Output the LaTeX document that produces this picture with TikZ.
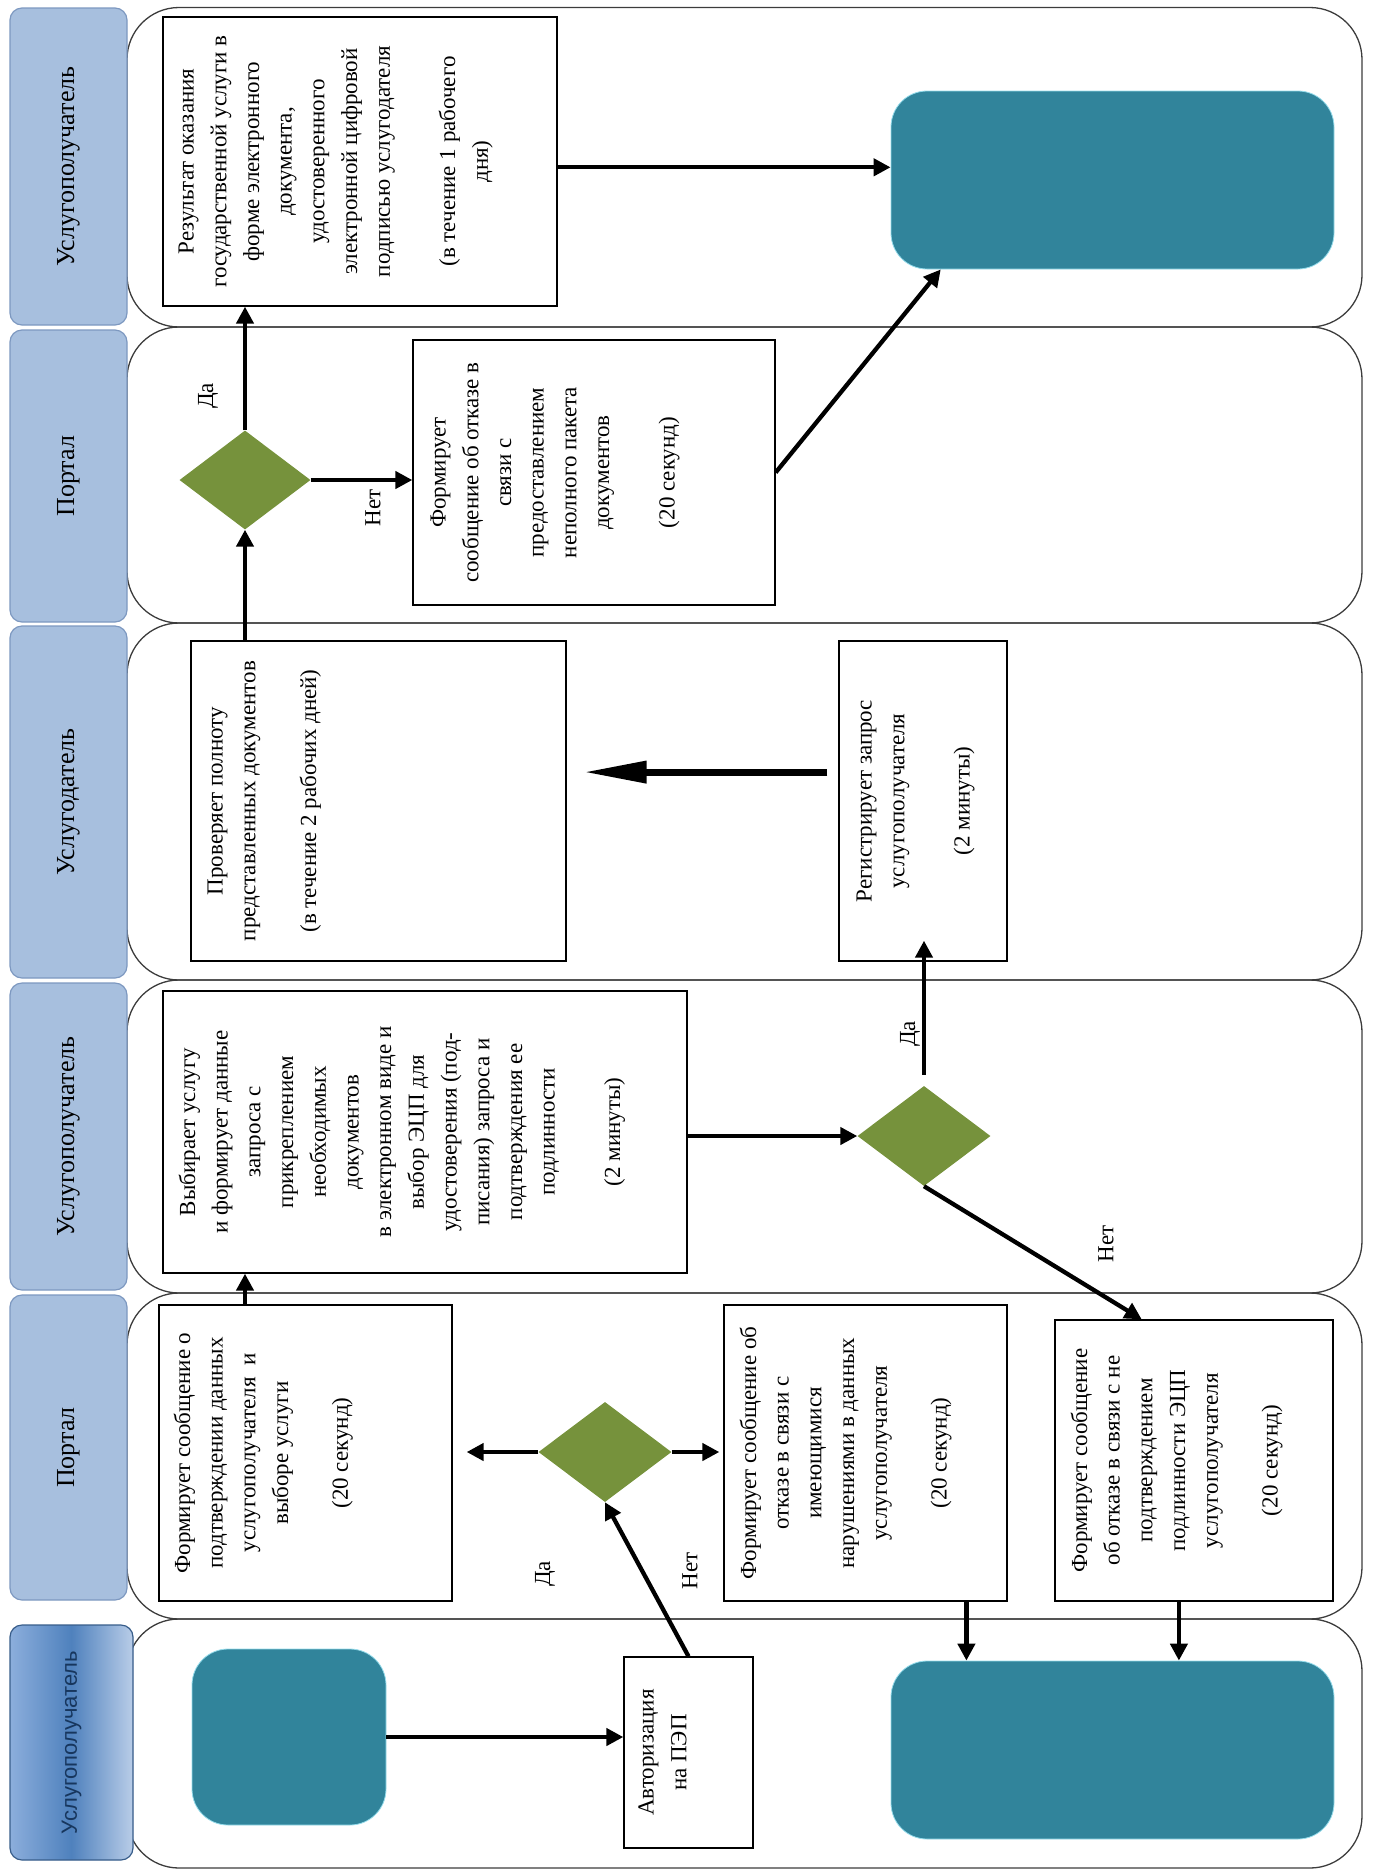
\documentclass[tikz,border=0pt]{standalone}
\usepackage{fontspec}
\setmainfont{Liberation Serif}
\newfontfamily\lblsans{Liberation Sans}
\usetikzlibrary{shapes.geometric,arrows.meta,calc}
\definecolor{tealbox}{RGB}{49,132,155}
\definecolor{tealedge}{RGB}{150,220,235}
\definecolor{olivedia}{RGB}{118,146,60}
\definecolor{lblfill}{RGB}{167,191,222}
\definecolor{lbldraw}{RGB}{125,152,192}
\definecolor{lanedraw}{RGB}{60,60,60}
\definecolor{navytxt}{RGB}{23,54,93}
\definecolor{lblsixa}{RGB}{140,174,220}
\definecolor{lblsixb}{RGB}{79,129,189}
\definecolor{lblsixc}{RGB}{185,205,232}
\definecolor{lblsixd}{RGB}{56,93,138}
\begin{document}
\begin{tikzpicture}[x=1pt,y=-1pt,
  lane/.style={draw=lanedraw, line width=1.3pt, rounded corners=52pt},
  lanelbl/.style={draw=lbldraw, line width=1.2pt, fill=lblfill, rounded corners=12pt, rotate=90, inner sep=0pt, font=\fontsize{26}{30}\selectfont},
  box/.style={draw=black, line width=1.3pt, fill=white, inner sep=0pt},
  term/.style={fill=tealbox, draw=tealedge, line width=0.8pt, rounded corners=36pt, inner sep=0pt},
  dia/.style={diamond, fill=olivedia, inner sep=0pt},
  txt/.style={rotate=90, anchor=north, align=center, inner sep=0pt, font=\fontsize{23}{32.7}\selectfont},
  yn/.style={rotate=90, inner sep=0pt, font=\fontsize{23}{27}\selectfont},
  arr/.style={line width=4.3pt, -{Triangle[length=17pt,width=17pt]}},
  bigarr/.style={line width=7pt, -{Triangle[length=63pt,width=21pt]}},
]
\useasboundingbox (0,0) rectangle (1373,1872);

% lanes
\draw[lane] (127,7.5) rectangle (1362,327);
\draw[lane] (127,327) rectangle (1362,623);
\draw[lane] (127,623) rectangle (1362,980);
\draw[lane] (127,980) rectangle (1362,1293);
\draw[lane] (127,1293) rectangle (1362,1619);
\draw[lane] (127,1619) rectangle (1362,1868);

% lane labels
\node[lanelbl, minimum width=317pt, minimum height=117pt] (lab1) at (68.5,166.5) {Услугополучатель};
\node[lanelbl, minimum width=292pt, minimum height=117pt] (lab2) at (68.5,476) {Портал};
\node[lanelbl, minimum width=352pt, minimum height=117pt] (lab3) at (68.5,802) {Услугодатель};
\node[lanelbl, minimum width=307pt, minimum height=117pt] (lab4) at (68.5,1136.5) {Услугополучатель};
\node[lanelbl, minimum width=305pt, minimum height=117pt] (lab5) at (68.5,1447.5) {Портал};
\node[lanelbl, draw=lblsixd, left color=lblsixa, right color=lblsixc, middle color=lblsixb,
      minimum width=235pt, minimum height=123pt, text=navytxt, font=\lblsans\fontsize{22}{26}\selectfont] (lab6) at (71.5,1742.5) {Услугополучатель};

% boxes
\node[box, minimum width=394pt, minimum height=289pt] (R) at (360,161.5) {};
\node[term, minimum width=443pt, minimum height=178pt] (T1) at (1112.5,180) {};
\node[dia, minimum width=131pt, minimum height=99pt] (D2) at (245,480) {};
\node[box, minimum width=362pt, minimum height=265pt] (F2) at (594,472.5) {};
\node[box, minimum width=375pt, minimum height=320pt] (P) at (378.5,801) {};
\node[box, minimum width=168pt, minimum height=320pt] (Reg) at (923,801) {};
\node[box, minimum width=524pt, minimum height=282pt] (V) at (425,1132) {};
\node[dia, minimum width=133pt, minimum height=100pt] (D4) at (924,1136) {};
\node[box, minimum width=293pt, minimum height=296pt] (B1) at (305.5,1453) {};
\node[dia, minimum width=133pt, minimum height=100pt] (D5) at (605,1452) {};
\node[box, minimum width=283pt, minimum height=296pt] (B2) at (865.5,1453) {};
\node[box, minimum width=278pt, minimum height=281pt] (B3) at (1194,1460.5) {};
\node[term, minimum width=194pt, minimum height=176pt] (S) at (289,1737) {};
\node[box, minimum width=129pt, minimum height=191pt] (A) at (688.5,1752.5) {};
\node[term, minimum width=443pt, minimum height=178pt] (T2) at (1112.5,1750) {};

% texts
\node[txt] (Rt) at ([xshift=16pt]R.west) {Результат оказания\\государственной услуги в\\форме электронного\\документа,\\удостоверенного\\электронной цифровой\\подписью услугодателя\\[32.7pt](в течение 1 рабочего\\дня)};
\node[txt] (F2t) at ([xshift=18pt]F2.west) {Формирует\\сообщение об отказе в\\связи с\\предоставлением\\неполного пакета\\документов\\[32.7pt](20 секунд)};
\node[txt] (Pt) at ([xshift=17pt]P.west) {Проверяет полноту\\представленных документов\\[28pt](в течение 2 рабочих дней)};
\node[txt] (Regt) at ([xshift=18pt]Reg.west) {Регистрирует запрос\\услугополучателя\\[32.7pt](2 минуты)};
\node[txt] (Vt) at ([xshift=16pt]V.west) {Выбирает услугу\\и формирует данные\\запроса с\\прикреплением\\необходимых\\документов\\в электронном виде и\\выбор ЭЦП для\\удостоверения (под-\\писания) запроса и\\подтверждения ее\\подлинности\\[32.7pt](2 минуты)};
\node[txt] (B1t) at ([xshift=15pt]B1.west) {Формирует сообщение о\\подтверждении данных\\услугополучателя \ и\\выборе услуги\\[27pt](20 секунд)};
\node[txt] (B2t) at ([xshift=16pt]B2.west) {Формирует сообщение об\\отказе в связи с\\имеющимися\\нарушениями в данных\\услугополучателя\\[27pt](20 секунд)};
\node[txt] (B3t) at ([xshift=16pt]B3.west) {Формирует сообщение\\об отказе в связи с не\\подтверждением\\подлинности ЭЦП\\услугополучателя\\[27pt](20 секунд)};
\node[txt] (At) at ([xshift=15pt]A.west) {Авторизация\\на ПЭП};

% yes / no labels
\node[yn] (y2) at (208,396) {Да};
\node[yn] (n2) at (373,508) {Нет};
\node[yn] (y4) at (910,1034) {Да};
\node[yn] (n4) at (1106,1244) {Нет};
\node[yn] (y5) at (545,1574) {Да};
\node[yn] (n5) at (690,1571) {Нет};

% connectors
\draw[arr] (S.east) -- (S.east -| A.west);
\draw[arr] (A.north) -- (D5.south);
\draw[arr, shorten >=14pt] (D5.west) -- (D5.west -| B1.east);
\draw[arr, shorten >=4pt] (D5.east) -- (D5.east -| B2.west);
\draw[arr] (B1.north -| D2) -- (V.south -| D2);
\draw[arr] (D4.west -| V.east) -- (D4.west);
\draw[arr, shorten <=11pt, shorten >=-21pt] (D4.north) -- (D4.north |- Reg.south);
\draw[arr] (D4.south) -- ($(B3.north west)!0.313!(B3.north east)$);
\coordinate (regarr) at ($(Reg.north west)!0.41!(Reg.south west)$);
\draw[bigarr, shorten <=11pt, shorten >=17pt] (regarr) -- (regarr -| P.east);
\draw[arr] (P.north -| D2) -- (D2.south);
\draw[arr] (D2.north) -- (R.south -| D2);
\draw[arr] (D2.east) -- (D2.east -| F2.west);
\draw[arr] (F2.east) -- ($(T1.south west)!0.113!(T1.south east)$);
\coordinate (rarr) at ($(R.north east)!0.52!(R.south east)$);
\draw[arr] (rarr) -- (rarr -| T1.west);
\coordinate (b2arr) at ($(B2.south west)!0.855!(B2.south east)$);
\draw[arr] (b2arr) -- (b2arr |- T2.north);
\coordinate (b3arr) at ($(B3.south west)!0.446!(B3.south east)$);
\draw[arr] (b3arr) -- (b3arr |- T2.north);
\end{tikzpicture}
\end{document}
